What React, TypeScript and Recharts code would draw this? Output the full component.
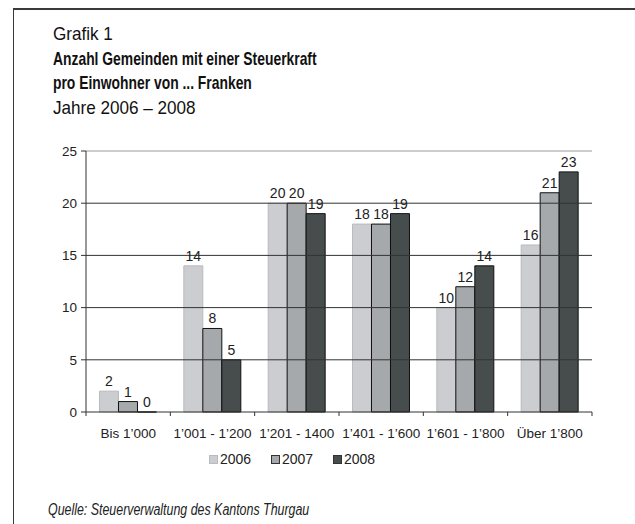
import { BarChart, Bar, XAxis, YAxis, ReferenceLine, Legend } from 'recharts'

const categories = ['Bis 1\u2019000', '1\u2019001 - 1\u2019200', '1\u2019201 - 1400', '1\u2019401 - 1\u2019600', '1\u2019601 - 1\u2019800', '\u00dcber 1\u2019800']
const y2006 = [2, 14, 20, 18, 10, 16]
const y2007 = [1, 8, 20, 18, 12, 21]
const y2008 = [0, 5, 19, 19, 14, 23]
const yTicks = [0, 5, 10, 15, 20, 25]
const gridValues = [5, 10, 15, 20]

const data = categories.map((c, i) => ({ cat: c, a: y2006[i], b: y2007[i], c: y2008[i] }))

const FONT = "'Liberation Sans', Arial, sans-serif"
const TICK = { fontSize: 13.5, fill: '#222', fontFamily: FONT }
const X_TICK_SIZE = 6
const X_TICK_MARGIN = 10

const SERIES = [
  { key: 'a', name: '2006', fill: '#cbcdd0', stroke: '#b9bbbe' },
  { key: 'b', name: '2007', fill: '#a6a9ac', stroke: '#111' },
  { key: 'c', name: '2008', fill: '#474d4d', stroke: '#111' },
]

/* eslint-disable @typescript-eslint/no-explicit-any */
const barLabel = (p: any) => (
  <text x={p.x + p.width / 2} y={p.y - 5} textAnchor="middle" fontSize={14} fill="#222" fontFamily={FONT}>{p.value}</text>
)

// category label plus tick marks at the band boundaries
const xTick = (p: any) => {
  const half = p.payload?.offset ?? 0
  const axisY = p.y - X_TICK_SIZE - X_TICK_MARGIN
  const last = p.index === categories.length - 1
  return (
    <g>
      <line x1={p.x - half} x2={p.x - half} y1={axisY} y2={axisY + 4} stroke="#333" />
      {last && <line x1={p.x + half} x2={p.x + half} y1={axisY} y2={axisY + 4} stroke="#333" />}
      <text x={p.x} y={p.y} dy="0.71em" textAnchor="middle" {...TICK}>{p.payload.value}</text>
    </g>
  )
}
/* eslint-enable @typescript-eslint/no-explicit-any */

function LegendContent() {
  return (
    <div style={{ display: 'flex', fontFamily: FONT, fontSize: 14, color: '#222', paddingLeft: 209 }}>
      {SERIES.map((s) => (
        <span key={s.key} style={{ display: 'flex', alignItems: 'center', width: 62 }}>
          <span style={{ display: 'inline-block', flexShrink: 0, width: 7, height: 7, background: s.fill, border: '1px solid ' + (s.key === 'a' ? '#b9bbbe' : '#333'), marginRight: 2 }} />
          {s.name}
        </span>
      ))}
    </div>
  )
}

export default function App() {
  return (
    <div style={{ position: 'absolute', left: 0, top: 0, width: 635, height: 524, background: '#fff', overflow: 'hidden' }}>
      {/* frame */}
      <div style={{ position: 'absolute', left: 13, top: 8, width: 640, height: 600, borderTop: '2px solid #3a3a3a', borderLeft: '1.5px solid #3a3a3a' }} />

      <div style={{ position: 'absolute', left: 53, top: 22, fontFamily: FONT, fontSize: 19, lineHeight: '24.5px', color: '#111', whiteSpace: 'nowrap' }}>
        <div style={{ transform: 'scaleX(0.9)', transformOrigin: 'left top' }}>Grafik 1</div>
        <div style={{ fontWeight: 'bold', transform: 'scaleX(0.73)', transformOrigin: 'left top' }}>Anzahl Gemeinden mit einer Steuerkraft</div>
        <div style={{ fontWeight: 'bold', transform: 'scaleX(0.73)', transformOrigin: 'left top' }}>pro Einwohner von ... Franken</div>
        <div style={{ transform: 'scaleX(0.9)', transformOrigin: 'left top' }}>Jahre 2006 – 2008</div>
      </div>

      <div style={{ position: 'absolute', left: 0, top: 0 }}>
        <BarChart width={635} height={480} data={data} margin={{ top: 151, right: 43, left: 0, bottom: 38 }} barCategoryGap="16%" barGap={0}>
          <XAxis dataKey="cat" tick={xTick} tickLine={false} tickSize={X_TICK_SIZE} tickMargin={X_TICK_MARGIN} axisLine={{ stroke: '#333' }} height={30} interval={0} />
          <YAxis domain={[0, 25]} ticks={yTicks} tick={TICK} tickLine={{ stroke: '#333' }} tickSize={5} axisLine={{ stroke: '#333' }} width={86} tickMargin={4} />
          <YAxis yAxisId="r" orientation="right" tick={false} tickLine={false} axisLine={{ stroke: '#9a9a9a' }} width={0} />
          {gridValues.map((v) => (
            <ReferenceLine key={v} y={v} stroke="#333" />
          ))}
          <ReferenceLine y={25} stroke="#9a9a9a" />
          {SERIES.map((s) => (
            <Bar key={s.key} dataKey={s.key} name={s.name} fill={s.fill} stroke={s.stroke} strokeWidth={1} minPointSize={0.01} isAnimationActive={false} label={barLabel} />
          ))}
          <Legend layout="horizontal" verticalAlign="middle" align="center" content={<LegendContent />} wrapperStyle={{ top: 451, left: 0, width: 635 }} />
        </BarChart>
      </div>

      <div style={{ position: 'absolute', left: 48, top: 501, fontFamily: FONT, fontSize: 16, fontStyle: 'italic', color: '#222', whiteSpace: 'nowrap', transform: 'scaleX(0.775)', transformOrigin: 'left top' }}>
        Quelle: Steuerverwaltung des Kantons Thurgau
      </div>
    </div>
  )
}
